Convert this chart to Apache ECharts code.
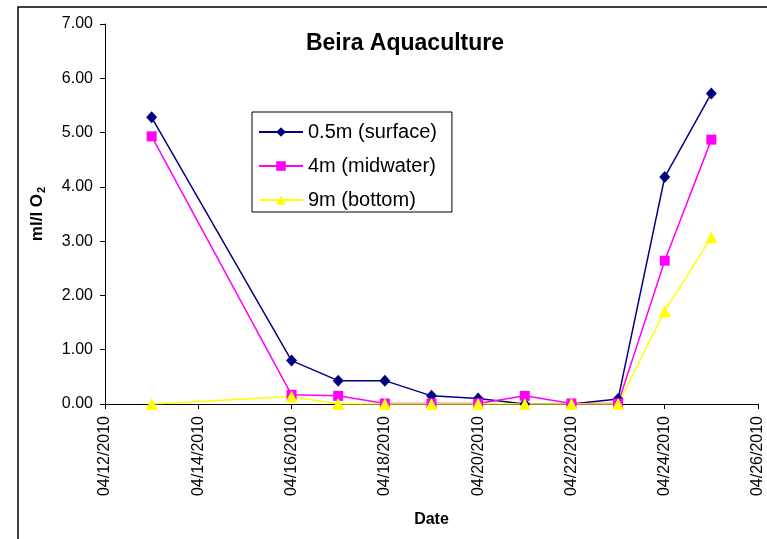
<!DOCTYPE html>
<html>
<head>
<meta charset="utf-8">
<script src="https://cdn.jsdelivr.net/npm/echarts@6/dist/echarts.min.js"></script>
<style>html,body{margin:0;padding:0;background:#fff;}#c{width:767px;height:539px;}</style>
</head>
<body>
<div id="c"></div>
<script>
var dates = ['04/13/2010','04/16/2010','04/17/2010','04/18/2010','04/19/2010','04/20/2010','04/21/2010','04/22/2010','04/23/2010','04/24/2010','04/25/2010'];
var surface = [5.28, 0.80, 0.43, 0.43, 0.15, 0.10, 0.00, 0.00, 0.09, 4.18, 5.72];
var midwater = [4.93, 0.17, 0.15, 0.01, 0.01, 0.01, 0.15, 0.01, 0.01, 2.64, 4.87];
var bottom = [0.00, 0.14, 0.00, 0.00, 0.00, 0.00, 0.00, 0.00, 0.00, 1.71, 3.07];
var seriesNames = ['0.5m (surface)', '4m (midwater)', '9m (bottom)'];
var startDate = '04/12/2010';
var endDate = '04/26/2010';

function parseD(s){ var p = s.split('/'); return Date.UTC(+p[2], +p[0]-1, +p[1]); }
var base = parseD(startDate);
function dayOff(s){ return Math.round((parseD(s) - base) / 86400000); }
function fmt(v){
  var d = new Date(base + v * 86400000);
  var mm = ('0' + (d.getUTCMonth()+1)).slice(-2), dd = ('0' + d.getUTCDate()).slice(-2);
  return mm + '/' + dd + '/' + d.getUTCFullYear();
}
function pairs(vals){ return dates.map(function(d,i){ return [dayOff(d), vals[i]]; }); }

var FF = '"Liberation Sans", Arial, sans-serif';
var chart = echarts.init(document.getElementById('c'));
chart.setOption({
  animation: false,
  backgroundColor: '#fff',
  textStyle: { fontFamily: FF },
  title: {
    text: 'Beira Aquaculture', left: 400, top: 27, textAlign: 'center',
    textStyle: { fontFamily: FF, fontWeight: 'bold', fontSize: 23, color: '#000' }
  },
  graphic: [{
    type: 'rect', shape: { x: 18, y: 7, width: 900, height: 700 }, z: -1,
    style: { fill: 'none', stroke: '#000', lineWidth: 1.5 }
  }],
  legend: {
    orient: 'vertical', left: 252, top: 112,
    padding: [10, 15, 2, 6], itemGap: 14, itemWidth: 44, itemHeight: 12,
    borderColor: '#000', borderWidth: 1, backgroundColor: '#fff',
    textStyle: { fontFamily: FF, fontSize: 20, color: '#000' },
    data: seriesNames
  },
  grid: { left: 105, right: 9, top: 24, bottom: 135, containLabel: false },
  xAxis: {
    type: 'value', min: 0, max: dayOff(endDate), interval: 2,
    name: 'Date', nameLocation: 'middle', nameGap: 108,
    nameTextStyle: { fontFamily: FF, fontWeight: 'bold', fontSize: 16, color: '#000' },
    axisLine: { lineStyle: { color: '#000', width: 1 } },
    axisTick: { show: true, length: 5, lineStyle: { color: '#000' } },
    axisLabel: { rotate: 90, margin: 12, fontSize: 16, color: '#000', fontFamily: FF, formatter: fmt },
    splitLine: { show: false }
  },
  yAxis: {
    type: 'value', min: 0, max: 7, interval: 1,
    name: 'ml/l O{sub|2}', nameLocation: 'middle', nameGap: 58, nameRotate: 90,
    nameTextStyle: {
      fontFamily: FF, fontWeight: 'bold', fontSize: 17, color: '#000',
      rich: { sub: { fontFamily: FF, fontWeight: 'bold', fontSize: 11, color: '#000', padding: [9, 0, 0, 1] } }
    },
    axisLine: { show: true, lineStyle: { color: '#000', width: 1 } },
    axisTick: { show: true, length: 5, lineStyle: { color: '#000' } },
    axisLabel: { margin: 12, fontSize: 16, color: '#000', fontFamily: FF, formatter: function(v){ return v.toFixed(2); } },
    splitLine: { show: false }
  },
  series: [
    { name: seriesNames[0], type: 'line', data: pairs(surface), color: '#000080',
      symbol: 'diamond', symbolSize: [11, 12], lineStyle: { width: 1.5 }, itemStyle: { color: '#000080' } },
    { name: seriesNames[1], type: 'line', data: pairs(midwater), color: '#FF00FF',
      symbol: 'rect', symbolSize: 10, lineStyle: { width: 1.5 }, itemStyle: { color: '#FF00FF' } },
    { name: seriesNames[2], type: 'line', data: pairs(bottom), color: '#FFFF00',
      symbol: 'triangle', symbolSize: 12, lineStyle: { width: 1.5 }, itemStyle: { color: '#FFFF00' } }
  ]
});
</script>
</body>
</html>
